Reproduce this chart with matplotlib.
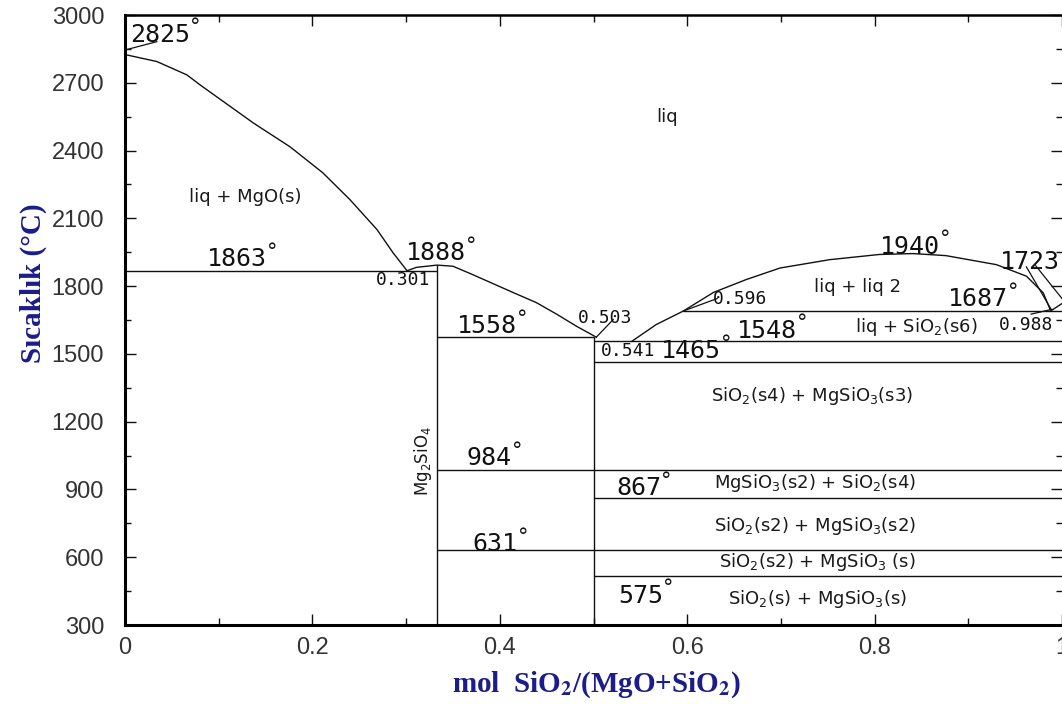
import matplotlib
matplotlib.use("Agg")
import matplotlib.pyplot as plt
from matplotlib.ticker import MultipleLocator, FixedLocator

# ---------------- data ----------------
# MgO liquidus
mgo_liq_x = [0.0, 0.034, 0.066, 0.080, 0.137, 0.176, 0.211, 0.240, 0.269, 0.286, 0.301]
mgo_liq_T = [2825, 2794, 2735, 2691, 2522, 2417, 2302, 2183, 2050, 1948, 1868]
# Mg2SiO4 liquidus
fo_liq_x = [0.301, 0.311, 0.333, 0.350, 0.371, 0.414, 0.439, 0.461, 0.482, 0.503]
fo_liq_T = [1868, 1883, 1893, 1888, 1851, 1772, 1727, 1675, 1622, 1574]
# SiO2-rich liquidus / miscibility gap
gap_x = [0.541, 0.567, 0.596, 0.628, 0.663, 0.699, 0.752, 0.805, 0.841, 0.876,
         0.930, 0.962, 0.980, 0.988]
gap_T = [1556, 1630, 1690, 1772, 1829, 1880, 1917, 1940, 1944, 1935,
         1895, 1844, 1770, 1690]
# cristobalite liquidus
cris_x = [0.988, 1.0]
cris_T = [1690, 1723]

# invariant / transition lines
iso_T = [1868, 1574, 1556, 1690, 1463, 986, 862, 634, 517]
iso_x0 = [0.0, 1/3, 0.5, 0.596, 0.5, 1/3, 0.5, 1/3, 0.5]
iso_x1 = [1/3, 0.5, 1.0, 1.0, 1.0, 1.0, 1.0, 1.0, 1.0]

# compounds (vertical lines)
comp_x = [1/3, 0.5]
comp_top = [1893, 1574]

# temperature labels
temp_lbl = ["2825", "1863", "1888", "1558", "1548", "1465", "1940", "1687",
            "1723", "984", "867", "631", "575"]
temp_x = [0.037, 0.119, 0.332, 0.386, 0.685, 0.604, 0.838, 0.910,
          0.966, 0.389, 0.548, 0.395, 0.550]
temp_T = [2912, 1918, 1946, 1622, 1603, 1511, 1975, 1741,
          1908, 1038, 905, 658, 430]

# composition labels
comp_lbl = ["0.301", "0.503", "0.541", "0.596", "0.988"]
comp_lx = [0.297, 0.512, 0.537, 0.656, 0.962]
comp_lT = [1825, 1657, 1511, 1745, 1626]

# leader lines (x pair, T pair)
lead_x = [[0.0, 0.034], [0.596, 0.632], [0.503, 0.521], [0.967, 0.989],
          [0.962, 0.988], [0.972, 1.0]]
lead_T = [[2845, 2882], [1690, 1745], [1574, 1652], [1676, 1697],
          [1885, 1700], [1890, 1745]]

# phase-region labels
phase_lbl = ["liq", "liq + MgO(s)", "liq + liq 2", r"liq + SiO$_2$(s6)",
             r"SiO$_2$(s4) + MgSiO$_3$(s3)", r"MgSiO$_3$(s2) + SiO$_2$(s4)",
             r"SiO$_2$(s2) + MgSiO$_3$(s2)", r"SiO$_2$(s2) + MgSiO$_3$ (s)",
             r"SiO$_2$(s) + MgSiO$_3$(s)"]
phase_x = [0.578, 0.128, 0.782, 0.845, 0.733, 0.736, 0.736, 0.739, 0.739]
phase_T = [2549, 2196, 1797, 1617, 1312, 928, 738, 578, 415]

x_ticks = [0, 0.2, 0.4, 0.6, 0.8, 1.0]
x_tick_lbl = ["0", "0.2", "0.4", "0.6", "0.8", "1"]
y_ticks = [300, 600, 900, 1200, 1500, 1800, 2100, 2400, 2700, 3000]

# ---------------- figure ----------------
plt.rcParams["mathtext.fontset"] = "dejavusans"
W, H = 1062, 704
fig = plt.figure(figsize=(W / 100, H / 100), dpi=100)
ax = fig.add_axes([125 / W, (H - 625) / H, 1.0 - 125 / W, (625 - 15) / H])
ax.set_xlim(0, 1)
ax.set_ylim(300, 3000)

lc = "#111111"
lw = 1.0
ax.plot(mgo_liq_x, mgo_liq_T, color=lc, lw=lw)
ax.plot(fo_liq_x, fo_liq_T, color=lc, lw=lw)
ax.plot(gap_x, gap_T, color=lc, lw=lw)
ax.plot(cris_x, cris_T, color=lc, lw=lw, clip_on=False)
ax.hlines(iso_T, iso_x0, iso_x1, color=lc, lw=lw)
ax.vlines(comp_x, 300, comp_top, color=lc, lw=lw)
for lx, lt in zip(lead_x, lead_T):
    ax.plot(lx, lt, color=lc, lw=0.9, clip_on=False)

numfont = dict(family="DejaVu Sans Mono", color="#111111")
for s, x, t in zip(temp_lbl, temp_x, temp_T):
    tx = ax.text(x, t, s, fontsize=18, ha="center", va="center",
                 clip_on=False, **numfont)
    ax.annotate("°", xy=(1.0, 1.0), xycoords=tx, xytext=(0, 4),
                textcoords="offset points", fontsize=15, ha="left",
                va="top", family="DejaVu Sans", color="#111111")
for s, x, t in zip(comp_lbl, comp_lx, comp_lT):
    ax.text(x, t, s, fontsize=13, ha="center", va="center", **numfont)
for s, x, t in zip(phase_lbl, phase_x, phase_T):
    ax.text(x, t, s, fontsize=13, ha="center", va="center",
            family="DejaVu Sans", color="#1a1a1a")

ax.text(0.318, 1025, r"Mg$_2$SiO$_4$", rotation=90, fontsize=12,
        ha="center", va="center", family="DejaVu Sans", color="#1a1a1a")

# ticks
ax.xaxis.set_major_locator(FixedLocator(x_ticks))
ax.set_xticklabels(x_tick_lbl)
ax.xaxis.set_minor_locator(MultipleLocator(0.1))
ax.yaxis.set_major_locator(FixedLocator(y_ticks))
ax.yaxis.set_minor_locator(MultipleLocator(150))
ax.tick_params(axis="both", which="both", direction="in", colors="#111111",
               labelcolor="#333333", labelsize=17)
ax.tick_params(axis="x", which="major", length=8, width=1, pad=9, top=True)
ax.tick_params(axis="x", which="minor", length=5, width=1, top=True)
ax.tick_params(axis="y", which="major", length=8, width=1, pad=15, right=True)
ax.tick_params(axis="y", which="minor", length=4, width=1, right=True)
for lab in ax.get_xticklabels() + ax.get_yticklabels():
    lab.set_family("Liberation Sans")

ax.spines["left"].set_linewidth(2.2)
ax.spines["bottom"].set_linewidth(2.2)
ax.spines["top"].set_linewidth(1.8)
ax.spines["right"].set_visible(False)

navy = "#1c1c8a"
fig.text(596 / W, 1 - 685 / H,
         r"mol  SiO$_{\mathbf{2}}$/(MgO+SiO$_{\mathbf{2}}$)",
         fontsize=21, fontweight="bold", family="Liberation Serif", color=navy,
         ha="center", va="center", math_fontfamily="stix")
fig.text(33 / W, 1 - 283 / H, "Sıcaklık (°C)", rotation=90,
         fontsize=21, fontweight="bold", family="Liberation Serif", color=navy,
         ha="center", va="center")

fig.savefig("out.png", dpi=100)
